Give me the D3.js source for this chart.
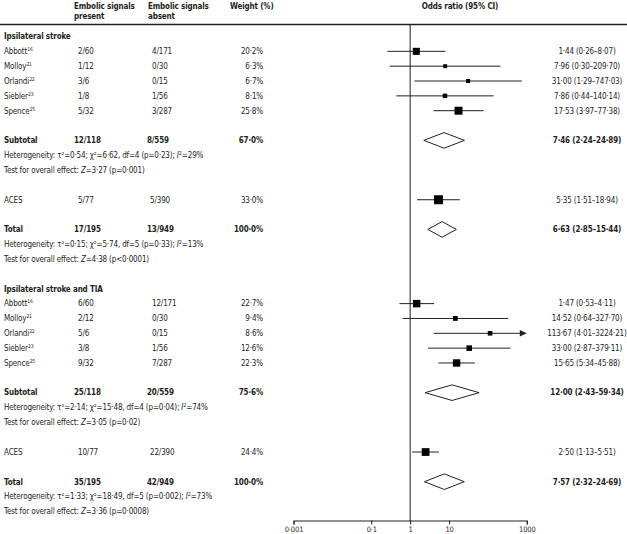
<!DOCTYPE html>
<html><head><meta charset="utf-8">
<script src="https://cdn.jsdelivr.net/npm/d3@7"></script>
<style>
body{margin:0;background:#fff;}
svg text{font-family:"DejaVu Sans Condensed","DejaVu Sans",sans-serif;font-size:8px;letter-spacing:-0.15px;fill:#231f20;}
.b{font-weight:bold;}
</style></head><body>
<svg id="c" width="627" height="534"></svg>
<script>
// ---------- data ----------
const studyNames = ["Abbott","Molloy","Orlandi","Siebler","Spence"];
const studyRefs = ["16","21","22","23","25"];

const strokePresent = ["2/60","1/12","3/6","1/8","5/32"];
const strokeAbsent  = ["4/171","0/30","0/15","1/56","3/287"];
const strokeWeight  = [20.2,6.3,6.7,8.1,25.8];
const strokeOR      = [1.44,7.96,31.00,7.86,17.53];
const strokeLo      = [0.26,0.30,1.29,0.44,3.97];
const strokeHi      = [8.07,209.70,747.03,140.14,77.38];

const tiaPresent = ["6/60","2/12","5/6","3/8","9/32"];
const tiaAbsent  = ["12/171","0/30","0/15","1/56","7/287"];
const tiaWeight  = [22.7,9.4,8.6,12.6,22.3];
const tiaOR      = [1.47,14.52,113.67,33.00,15.65];
const tiaLo      = [0.53,0.64,4.01,2.87,5.34];
const tiaHi      = [4.11,327.70,3224.21,379.11,45.88];

// summary rows: [subtotal, ACES, total]
const strokeSumNames   = ["Subtotal","ACES","Total"];
const strokeSumPresent = ["12/118","5/77","17/195"];
const strokeSumAbsent  = ["8/559","5/390","13/949"];
const strokeSumWeight  = [67.0,33.0,100.0];
const strokeSumOR      = [7.46,5.35,6.63];
const strokeSumLo      = [2.24,1.51,2.85];
const strokeSumHi      = [24.89,18.94,15.44];
const strokeHet  = ["τ²=0·54; χ²=6·62, df=4 (p=0·23); ","29%","τ²=0·15; χ²=5·74, df=5 (p=0·33); ","13%"];
const strokeTest = ["3·27 (p=0·001)","4·38 (p<0·0001)"];

const tiaSumNames   = ["Subtotal","ACES","Total"];
const tiaSumPresent = ["25/118","10/77","35/195"];
const tiaSumAbsent  = ["20/559","22/390","42/949"];
const tiaSumWeight  = [75.6,24.4,100.0];
const tiaSumOR      = [12.00,2.50,7.57];
const tiaSumLo      = [2.43,1.13,2.32];
const tiaSumHi      = [59.34,5.51,24.69];
const tiaHet  = ["τ²=2·14; χ²=15·48, df=4 (p=0·04); ","74%","τ²=1·33; χ²=18·49, df=5 (p=0·002); ","73%"];
const tiaTest = ["3·05 (p=0·02)","3·36 (p=0·0008)"];

const sectionTitles = ["Ipsilateral stroke","Ipsilateral stroke and TIA"];
const tickValues = [0.001,0.1,1,10,1000];
const tickLabels = ["0·001","0·1","1","10","1000"];

// ---------- drawing ----------
const svg = d3.select("#c");
const ink = "#231f20";
const x = d3.scaleLog().domain([0.001,1000]).range([293.5,526.8]);
const y = d3.scaleLinear().domain([0,64]).range([36.5,36.5+7.42*64]);
const sz = d3.scaleSqrt().domain([0,33]).range([0,9]);
const f2 = v => d3.format(".2f")(v).replace(".","·");
const f1 = v => d3.format(".1f")(v).replace(".","·") + "%";
const orText = (o,l,h) => `${f2(o)} (${f2(l)}–${f2(h)})`;

const colX = {name:4, present:76, absent:150, weight:263, or:587};

// header
const hdr = svg.append("g").attr("class","b");
[["Embolic signals",74,6],["present",74,16],["Embolic signals",148,6],["absent",148,16],["Weight (%)",230,6]]
  .forEach(([t,xx,yy])=>hdr.append("text").attr("x",xx).attr("y",yy).attr("dy","0.35em").text(t));
hdr.append("text").attr("x",460).attr("y",6).attr("dy","0.35em").attr("text-anchor","middle").text("Odds ratio (95% CI)");
svg.append("line").attr("x1",0).attr("x2",627).attr("y1",24.5).attr("y2",24.5).attr("stroke",ink).attr("stroke-width",1.3);

// reference line at 1
svg.append("line").attr("x1",x(1)).attr("x2",x(1)).attr("y1",24.5).attr("y2",521).attr("stroke",ink).attr("stroke-width",1);

// axis
const ax = svg.append("g").attr("transform","translate(0,520.5)")
  .call(d3.axisBottom(x).tickValues(tickValues).tickFormat((d,i)=>tickLabels[i]).tickSizeOuter(0).tickSize(4).tickPadding(2));
ax.select(".domain").attr("stroke",ink);
ax.selectAll(".tick line").attr("stroke",ink);
ax.selectAll(".tick text").attr("fill",ink)
  .style("font-family",'"DejaVu Sans Condensed","DejaVu Sans",sans-serif').style("font-size","7.5px");

function txt(g,t,xx,yy,anchor,bold){
  return g.append("text").attr("x",xx).attr("y",yy).attr("dy","0.35em")
    .attr("text-anchor",anchor||"start").attr("class",bold?"b":null).text(t);
}

function section(base, title, present, absent, weight, or, lo, hi,
                 sNames, sPresent, sAbsent, sWeight, sOR, sLo, sHi, het, test){
  const g = svg.append("g");
  txt(g,title,colX.name,y(base),"start",true);
  studyNames.forEach((n,i)=>{
    const yy = y(base+2+2*i);
    const t = g.append("text").attr("x",colX.name).attr("y",yy).attr("dy","0.35em").text(n);
    t.append("tspan").attr("dy","-3px").style("font-size","5px").text(studyRefs[i]);
    txt(g,present[i],colX.present+2,yy);
    txt(g,absent[i],colX.absent+2,yy);
    txt(g,f1(weight[i]),colX.weight,yy,"end");
    txt(g,orText(or[i],lo[i],hi[i]),colX.or,yy,"middle");
    const clipped = hi[i] > 1000;
    const xe = clipped ? x(1000)-6 : x(hi[i]);
    g.append("line").attr("x1",x(lo[i])).attr("x2",xe).attr("y1",yy).attr("y2",yy).attr("stroke",ink).attr("stroke-width",1);
    if(clipped){
      const xt = x(1000);
      g.append("path").attr("d",`M${xt},${yy}L${xt-7},${yy-3.2}L${xt-7},${yy+3.2}Z`).attr("fill",ink);
    }
    const s = sz(weight[i]);
    g.append("rect").attr("x",x(or[i])-s/2).attr("y",yy-s/2).attr("width",s).attr("height",s).attr("fill","#000");
  });
  const sumSlots = [base+14, base+22, base+26];
  sNames.forEach((n,j)=>{
    const yy = y(sumSlots[j]);
    const bold = j!==1;
    txt(g,n,colX.name,yy,"start",bold);
    txt(g,sPresent[j],colX.present-(bold?2:-2),yy,"start",bold);
    txt(g,sAbsent[j],colX.absent-(bold?3:0),yy,"start",bold);
    txt(g,f1(sWeight[j]),colX.weight,yy,"end",bold);
    txt(g,orText(sOR[j],sLo[j],sHi[j]),colX.or,yy,"middle",bold);
    if(j===1){
      g.append("line").attr("x1",x(sLo[j])).attr("x2",x(sHi[j])).attr("y1",yy).attr("y2",yy).attr("stroke",ink).attr("stroke-width",1);
      const s = sz(sWeight[j]);
      g.append("rect").attr("x",x(sOR[j])-s/2).attr("y",yy-s/2).attr("width",s).attr("height",s).attr("fill","#000");
    } else {
      const h = 7.8;
      g.append("path").attr("d",`M${x(sLo[j])},${yy}L${x(sOR[j])},${yy-h}L${x(sHi[j])},${yy}L${x(sOR[j])},${yy+h}Z`)
        .attr("fill","#fff").attr("stroke",ink).attr("stroke-width",1);
    }
  });
  // heterogeneity & test lines after subtotal (k=0) and total (k=1)
  [[base+16,base+18],[base+28,base+30]].forEach(([hy,ty],k)=>{
    const h = g.append("text").attr("x",colX.name).attr("y",y(hy)).attr("dy","0.35em");
    h.append("tspan").text("Heterogeneity: "+het[2*k]);
    h.append("tspan").style("font-style","italic").text("I");
    h.append("tspan").attr("dy","-3px").style("font-size","5.5px").text("2");
    h.append("tspan").attr("dy","3px").text("="+het[2*k+1]);
    const t = g.append("text").attr("x",colX.name).attr("y",y(ty)).attr("dy","0.35em");
    t.append("tspan").text("Test for overall effect: ");
    t.append("tspan").style("font-style","italic").text("Z");
    t.append("tspan").text("="+test[k]);
  });
}

section(0, sectionTitles[0], strokePresent, strokeAbsent, strokeWeight, strokeOR, strokeLo, strokeHi,
  strokeSumNames, strokeSumPresent, strokeSumAbsent, strokeSumWeight, strokeSumOR, strokeSumLo, strokeSumHi, strokeHet, strokeTest);
section(34, sectionTitles[1], tiaPresent, tiaAbsent, tiaWeight, tiaOR, tiaLo, tiaHi,
  tiaSumNames, tiaSumPresent, tiaSumAbsent, tiaSumWeight, tiaSumOR, tiaSumLo, tiaSumHi, tiaHet, tiaTest);
</script>
</body></html>
